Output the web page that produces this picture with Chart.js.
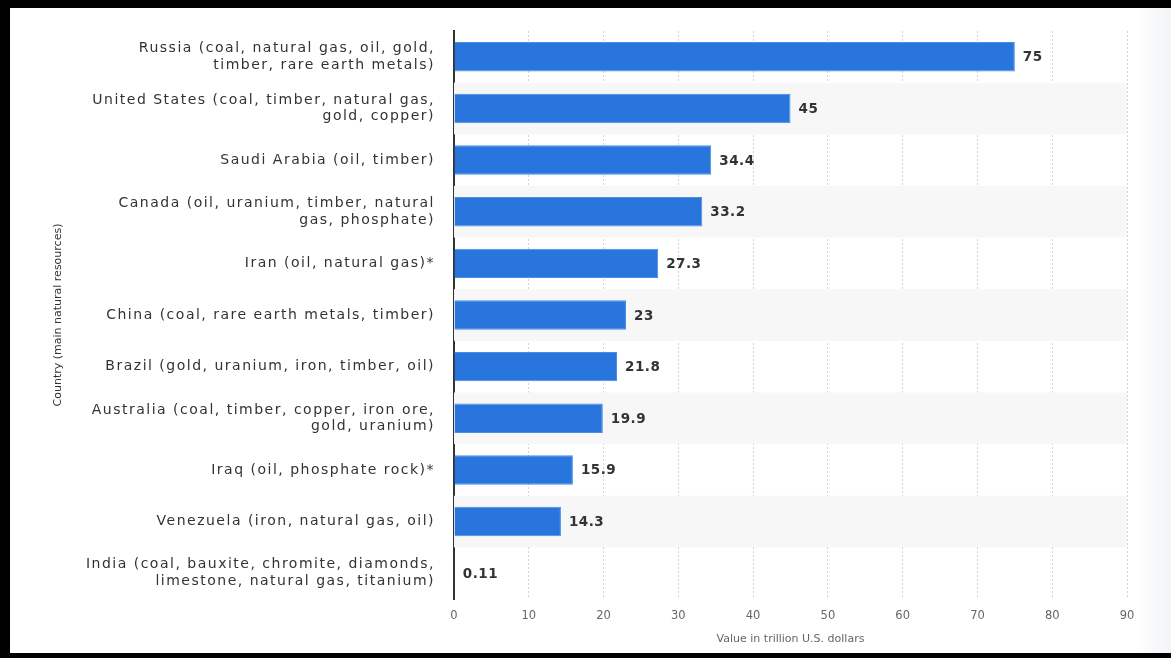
<!DOCTYPE html>
<html>
<head>
<meta charset="utf-8">
<script src="https://cdn.jsdelivr.net/npm/chart.js@4"></script>
<style>
    html, body { margin: 0; padding: 0; background: #000; }
    body { width: 1171px; height: 658px; position: relative; overflow: hidden; }
    #frame {
        position: absolute; left: 10px; top: 8px; width: 1161px; height: 645px;
        background: linear-gradient(to right, #fff 0, #fff 1125px, #f3f4f7 1161px);
    }
    #chart { position: absolute; left: 0; top: 0; }
</style>
</head>
<body>
<div id="frame"><canvas id="chart" width="1161" height="645"></canvas></div>
<script>
const countries = [
    ['Russia (coal, natural gas, oil, gold,', 'timber, rare earth metals)'],
    ['United States (coal, timber, natural gas,', 'gold, copper)'],
    ['Saudi Arabia (oil, timber)'],
    ['Canada (oil, uranium, timber, natural', 'gas, phosphate)'],
    ['Iran (oil, natural gas)*'],
    ['China (coal, rare earth metals, timber)'],
    ['Brazil (gold, uranium, iron, timber, oil)'],
    ['Australia (coal, timber, copper, iron ore,', 'gold, uranium)'],
    ['Iraq (oil, phosphate rock)*'],
    ['Venezuela (iron, natural gas, oil)'],
    ['India (coal, bauxite, chromite, diamonds,', 'limestone, natural gas, titanium)']
];
const values = [75, 45, 34.4, 33.2, 27.3, 23, 21.8, 19.9, 15.9, 14.3, 0.11];
const valueLabels = ['75', '45', '34.4', '33.2', '27.3', '23', '21.8', '19.9', '15.9', '14.3', '0.11'];

const FONT = "'DejaVu Sans', Verdana, sans-serif";

// grey stripes behind every second row
const bands = {
    id: 'bands',
    beforeDatasetsDraw(chart) {
        const { ctx, chartArea, scales } = chart;
        const y = scales.y;
        const step = y.getPixelForValue(1) - y.getPixelForValue(0);
        ctx.save();
        ctx.fillStyle = '#f7f7f7';
        countries.forEach((c, i) => {
            if (i % 2 === 1) {
                const mid = y.getPixelForValue(i);
                ctx.fillRect(chartArea.left, mid - step / 2, chartArea.right - chartArea.left, step);
            }
        });
        ctx.restore();
    }
};

// the category labels in the picture run a little wider than the font
const wideLabels = {
    id: 'wideLabels',
    beforeDraw(chart) {
        const y = chart.scales.y;
        if (y._wide) return;
        const orig = y.drawLabels.bind(y);
        y.drawLabels = function (area) {
            const c = this.ctx;
            c.save();
            c.letterSpacing = '1.5px';
            orig(area);
            c.restore();
        };
        y._wide = true;
    }
};

const valueText = {
    id: 'valueText',
    afterDatasetsDraw(chart) {
        const { ctx } = chart;
        const meta = chart.getDatasetMeta(0);
        ctx.save();
        ctx.font = 'bold 13.5px ' + FONT;
        ctx.letterSpacing = '0.5px';
        ctx.fillStyle = '#333';
        ctx.textAlign = 'left';
        ctx.textBaseline = 'middle';
        meta.data.forEach((bar, i) => {
            ctx.fillText(valueLabels[i], bar.x + 8, bar.y + 1);
        });
        ctx.restore();
    }
};

new Chart(document.getElementById('chart').getContext('2d'), {
    type: 'bar',
    data: {
        labels: countries,
        datasets: [{
            data: values,
            backgroundColor: '#2876dd',
            borderColor: '#4a8de4',
            borderWidth: 1,
            categoryPercentage: 0.57,
            barPercentage: 1
        }]
    },
    options: {
        indexAxis: 'y',
        responsive: false,
        animation: false,
        layout: { padding: { top: 23, right: 44, left: 0, bottom: 0 } },
        plugins: {
            legend: { display: false },
            tooltip: { enabled: false }
        },
        scales: {
            x: {
                min: 0,
                max: 90,
                ticks: {
                    stepSize: 10,
                    color: '#666',
                    padding: 10,
                    font: { family: FONT, size: 11.5 }
                },
                grid: {
                    drawTicks: false,
                    color: ctx => ctx.tick && ctx.tick.value === 0 ? 'rgba(0,0,0,0)' : '#d3d3d3',
                    lineWidth: 1
                },
                border: { display: false, dash: [2, 2] },
                title: {
                    display: true,
                    text: 'Value in trillion U.S. dollars',
                    color: '#666',
                    font: { family: FONT, size: 11 },
                    padding: { top: 6, bottom: 7 }
                },
                afterFit(scale) {
                    scale.height = 54;
                    scale.paddingLeft = 0;
                    scale.paddingRight = 0;
                }
            },
            y: {
                ticks: {
                    color: '#333',
                    padding: 19,
                    font: { family: FONT, size: 14, lineHeight: 1.2 }
                },
                grid: { display: false, drawTicks: false },
                border: { display: true, color: '#333', width: 2 },
                title: {
                    display: true,
                    text: 'Country (main natural resources)',
                    color: '#333',
                    font: { family: FONT, size: 11 },
                    padding: { top: 42, bottom: 0 }
                },
                afterFit(scale) {
                    scale.width = 444;
                    scale.paddingTop = 0;
                    scale.paddingBottom = 0;
                }
            }
        }
    },
    plugins: [bands, wideLabels, valueText]
});
</script>
</body>
</html>
